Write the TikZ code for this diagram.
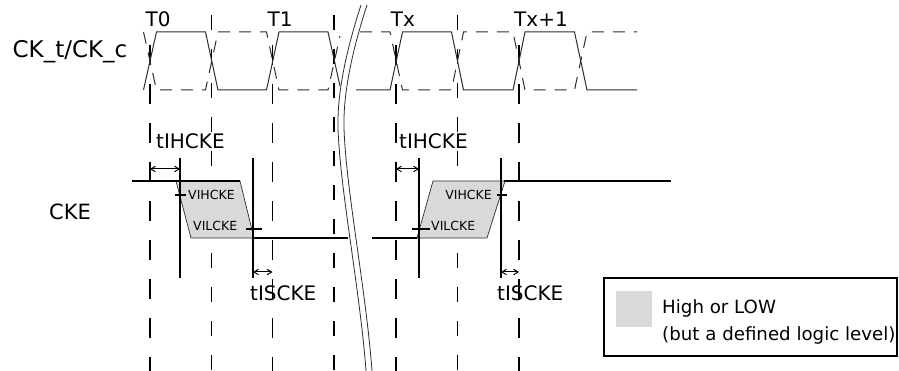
\documentclass[tikz,border=0pt]{standalone}
\usepackage{fontspec}
\setmainfont{DejaVu Sans}
\usepackage{tikz}
\usetikzlibrary{arrows.meta}
\definecolor{LevelGray}{RGB}{217,217,217}
\definecolor{WireGray}{RGB}{45,45,45}

\begin{document}
\begin{tikzpicture}[
    x=1pt, y=-1pt,
    clkline/.style={line width=1pt, color=WireGray},
    clkbar/.style={line width=1pt, color=WireGray, dash pattern=on 12pt off 9pt},
    refT/.style={line width=1.6pt, dash pattern=on 20pt off 19pt},
    refM/.style={line width=1.6pt, dash pattern=on 15pt off 19pt},
    sigline/.style={line width=1.8pt},
    edgebox/.style={fill=LevelGray, draw=WireGray, line width=0.7pt},
    tick/.style={line width=1.4pt},
    meas/.style={line width=1.6pt},
    dimarr/.style={{Straight Barb[length=4.5pt,width=5.5pt]}-{Straight Barb[length=4.5pt,width=5.5pt]}, line width=1pt},
    lbl/.style={font=\fontsize{20}{23}\selectfont, inner sep=0pt},
    smalllbl/.style={font=\fontsize{12.5}{14}\selectfont, inner sep=0pt},
    leglbl/.style={font=\fontsize{18.2}{21}\selectfont, inner sep=0pt, anchor=west},
]
\useasboundingbox (0,0) rectangle (899,371);

% ── Clock reference lines ──
\foreach \xx in {150,272.5,396,519}
    \draw[refT] (\xx,45) -- (\xx,371);
\foreach \xx in {211.5,334,457.5}
    \draw[refM] (\xx,15) -- (\xx,371);

% ── Clock edge labels ──
\node[lbl] (t0) at (158,19) {T0};
\node[lbl] (t1) at (280,19) {T1};
\node[lbl] (tx) at (403,19) {Tx};
\node[lbl] (tx1) at (541,19) {Tx+1};

% ── CK_t / CK_c ──
\node[lbl, font=\fontsize{23}{26}\selectfont] (ckname) at (70,52) {CK\_t/CK\_c};
\draw[clkline] (143.5,90) -- (156.5,32) -- (205.5,32) -- (218,90) -- (266.5,90)
    -- (279,32) -- (328,32) -- (340,86);
\draw[clkbar] (143.5,32) -- (156.5,90) -- (205.5,90) -- (218,32) -- (266.5,32)
    -- (279,90) -- (328,90) -- (340,36);
\draw[clkline] (356,90) -- (390,90) -- (402.5,32) -- (451.5,32) -- (463.5,90)
    -- (513,90) -- (525,32) -- (574.5,32) -- (587,90) -- (637,90);
\draw[clkbar] (360,32) -- (390,32) -- (402.5,90) -- (451.5,90) -- (463.5,32)
    -- (513,32) -- (525,90) -- (574.5,90) -- (587,32) -- (637,32);

% ── CKE ──
\node[lbl, font=\fontsize{21}{24}\selectfont] (ckename) at (70,212) {CKE};
\draw[edgebox] (176,181) -- (240,181) -- (254,238) -- (191,238) -- cycle;
\draw[edgebox] (417,238) -- (487,238) -- (505,181) -- (433,181) -- cycle;
\draw[sigline] (132,181) -- (240,181);
\draw[sigline] (254,238) -- (348,238);
\draw[sigline] (372,238) -- (417,238);
\draw[sigline] (504,181) -- (671,181);

% ── Threshold marks ──
\draw[tick] (175,195) -- (186,195);
\draw[tick] (246,229) -- (262,229);
\draw[tick] (412,229) -- (430,229);
\draw[tick] (497,195) -- (507,195);
\node[smalllbl, anchor=west] (vih1) at (188,195) {VIHCKE};
\node[smalllbl, anchor=west] (vil1) at (193,226) {VILCKE};
\node[smalllbl, anchor=east] (vih2) at (492,195) {VIHCKE};
\node[smalllbl, anchor=west] (vil2) at (431,226) {VILCKE};

% ── Hold / setup measures ──
\foreach \xx in {180,253,419,501}
    \draw[meas] (\xx,158) -- (\xx,278);
\coordinate (h1a) at (150,169);
\coordinate (h1b) at (180,169);
\coordinate (h2a) at (396,169);
\coordinate (h2b) at (419,169);
\coordinate (s1a) at (253,272);
\coordinate (s1b) at (272.5,272);
\coordinate (s2a) at (501,272);
\coordinate (s2b) at (519,272);
\draw[dimarr] (h1a) -- (h1b);
\draw[dimarr] (h2a) -- (h2b);
\draw[dimarr] (s1a) -- (s1b);
\draw[dimarr] (s2a) -- (s2b);
\node[lbl, anchor=west] (tih1) at (156,141) {tIHCKE};
\node[lbl, anchor=west] (tih2) at (399,141) {tIHCKE};
\node[lbl, anchor=west] (tis1) at (250,293) {tISCKE};
\node[lbl, anchor=west] (tis2) at (497,293) {tISCKE};

% ── Time break ──
\foreach \dx in {0,6}
    \draw[line width=0.8pt, color=WireGray, xshift=\dx pt]
        (361,5) .. controls (348,45) and (337,90) .. (338,128)
        .. controls (340,190) and (360,290) .. (366,371);

% ── Legend ──
\draw[line width=1.5pt] (604,278) rectangle (897,356);
\fill[LevelGray] (616,291) rectangle (652,327);
\node[leglbl] (leg1) at (662,308) {High or LOW};
\node[leglbl] (leg2) at (662,335) {(but a defined logic level)};

\end{tikzpicture}
\end{document}
